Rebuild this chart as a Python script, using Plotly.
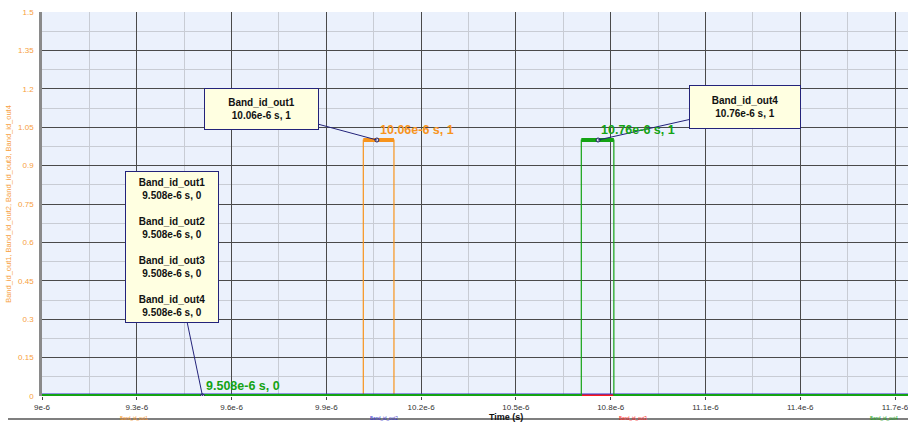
import plotly.graph_objects as go

# ---- data ----
x_tick_labels = ["9e-6", "9.3e-6", "9.6e-6", "9.9e-6", "10.2e-6", "10.5e-6",
                 "10.8e-6", "11.1e-6", "11.4e-6", "11.7e-6"]
y_tick_labels = ["0", "0.15", "0.3", "0.45", "0.6", "0.75", "0.9", "1.05",
                 "1.2", "1.35", "1.5"]

series_names = ["Band_id_out1", "Band_id_out2", "Band_id_out3", "Band_id_out4"]
series_colors = ["#F7941D", "#3333CC", "#FF1A1A", "#14A314"]

time_out1 = [9.0e-6, 10.017e-6, 10.017e-6, 10.114e-6, 10.114e-6, 11.8e-6]
level_out1 = [0, 0, 1, 1, 0, 0]
time_out2 = [9.0e-6, 11.8e-6]
level_out2 = [0, 0]
time_out3 = [9.0e-6, 11.8e-6]
level_out3 = [0, 0]
time_out4 = [9.0e-6, 10.707e-6, 10.707e-6, 10.81e-6, 10.81e-6, 11.8e-6]
level_out4 = [0, 0, 1, 1, 0, 0]

cursor_x = [9.508e-6, 10.06e-6, 10.76e-6]
cursor_y = [0, 1, 1]

x_min, x_max = 9.0e-6, 11.741e-6
y_min, y_max = 0.0, 1.5

series_t = [time_out1, time_out2, time_out3, time_out4]
series_v = [level_out1, level_out2, level_out3, level_out4]


def level_segments(t, v):
    xs, ys = [], []
    for i in range(len(t) - 1):
        if v[i] == v[i + 1] and t[i] != t[i + 1]:
            xs += [t[i], t[i + 1], None]
            ys += [v[i], v[i + 1], None]
    return xs, ys


fig = go.Figure()
thick = [4, 5, 3, 4]
for name, col, t, v, w in zip(series_names, series_colors, series_t, series_v, thick):
    fig.add_trace(go.Scatter(x=t, y=v, mode="lines", name=name,
                             line=dict(color=col, width=1.2), showlegend=False,
                             hoverinfo="skip"))
    sx, sy = level_segments(t, v)
    fig.add_trace(go.Scatter(x=sx, y=sy, mode="lines", name=name,
                             line=dict(color=col, width=w), showlegend=False,
                             hoverinfo="skip"))

fig.add_trace(go.Scatter(x=cursor_x, y=cursor_y, mode="markers", showlegend=False,
                         marker=dict(size=4, color="#DDDDDD",
                                     line=dict(color="#1A1A66", width=1)),
                         hoverinfo="skip"))

font_main = "Arial, Liberation Sans, sans-serif"

# callout boxes
box_fill = "#FFFFE1"
box_line = "#23237A"
callouts = [
    dict(x=cursor_x[0], y=cursor_y[0],
         text="<br><br>".join(f"<b>{n}<br>9.508e-6 s, 0</b>" for n in series_names),
         ax=-31, ay=-149, width=88, height=146),
    dict(x=cursor_x[1], y=cursor_y[1],
         text="<b>Band_id_out1<br>10.06e-6 s, 1</b>", ax=-115, ay=-31,
         width=109, height=36),
    dict(x=cursor_x[2], y=cursor_y[2],
         text="<b>Band_id_out4<br>10.76e-6 s, 1</b>", ax=147, ay=-33,
         width=106, height=38),
]
for c in callouts:
    fig.add_annotation(x=c["x"], y=c["y"], xref="x", yref="y", text=c["text"],
                       showarrow=True, arrowhead=0, arrowwidth=1,
                       arrowcolor=box_line, ax=c["ax"], ay=c["ay"],
                       bgcolor=box_fill, bordercolor=box_line, borderwidth=1,
                       borderpad=2, width=c["width"], height=c["height"],
                       align="center", valign="middle",
                       font=dict(family=font_main, size=10, color="#111111"))

# value labels next to cursors
value_labels = ["9.508e-6 s, 0", "10.06e-6 s, 1", "10.76e-6 s, 1"]
value_colors = [series_colors[3], series_colors[0], series_colors[3]]
for xv, yv, lab, col in zip(cursor_x, cursor_y, value_labels, value_colors):
    fig.add_annotation(x=xv, y=yv, xref="x", yref="y", text=f"<b>{lab}</b>",
                       showarrow=False, xanchor="left", yanchor="bottom",
                       xshift=1, yshift=1,
                       font=dict(family=font_main, size=12.5, color=col))

# x-axis title
fig.add_annotation(x=(506 - 42) / 866, xref="paper", y=(396 - 410) / 384, yref="paper",
                   text="<b>Time (s)</b>", showarrow=False, yanchor="top",
                   xanchor="center",
                   font=dict(family=font_main, size=9, color="#111111"))

# legend row under the separator line (mostly hidden at the bottom edge)
legend_px = [118, 368, 617, 868]
for name, col, px in zip(series_names, series_colors, legend_px):
    fig.add_annotation(x=(px - 42) / 866, xref="paper", y=(396 - 423) / 384, yref="paper",
                       text=name, showarrow=False, xanchor="left", yanchor="bottom",
                       font=dict(family=font_main, size=4.5, color=col))
fig.add_shape(type="line", xref="paper", yref="paper",
              x0=(8 - 42) / 866, x1=1.0, y0=(396 - 419) / 384, y1=(396 - 419) / 384,
              line=dict(color="#555555", width=1.5))

fig.update_layout(
    width=908, height=423,
    margin=dict(l=42, r=0, t=12, b=27),
    paper_bgcolor="white", plot_bgcolor="#EBF1FC",
    showlegend=False,
    font=dict(family=font_main),
)
fig.update_xaxes(
    range=[x_min, x_max], tickmode="array",
    tickvals=[float(s) for s in x_tick_labels], ticktext=x_tick_labels,
    tickfont=dict(size=8, color="#333333"), ticklabeloverflow="allow",
    showgrid=True, gridcolor="#4A4A4A", gridwidth=1,
    ticks="outside", ticklen=3, tickcolor="#444444",
    minor=dict(tickmode="linear", tick0=9.15e-6, dtick=0.3e-6,
               showgrid=True, gridcolor="#C8CCD4", gridwidth=1),
    zeroline=False, showline=False,
)
fig.update_yaxes(
    range=[y_min, y_max], tickmode="array",
    tickvals=[float(s) for s in y_tick_labels], ticktext=y_tick_labels,
    tickfont=dict(size=8, color="#F7A040"),
    showgrid=True, gridcolor="#4A4A4A", gridwidth=1,
    minor=dict(tickmode="linear", tick0=0.075, dtick=0.15,
               showgrid=True, gridcolor="#C8CCD4", gridwidth=1),
    zeroline=False, showline=True, linecolor="#8A8A8A", linewidth=2.5,
    ticks="", ticklabelstandoff=4,
    title=dict(text="Band_id_out1, Band_id_out2, Band_id_out3, Band_id_out4",
               font=dict(size=7.5, color="#F7A040"), standoff=6),
)

fig.write_html("out.html", config={"displayModeBar": False},
               post_script="document.body.style.margin='0';"
                           "document.body.style.overflow='hidden';")
